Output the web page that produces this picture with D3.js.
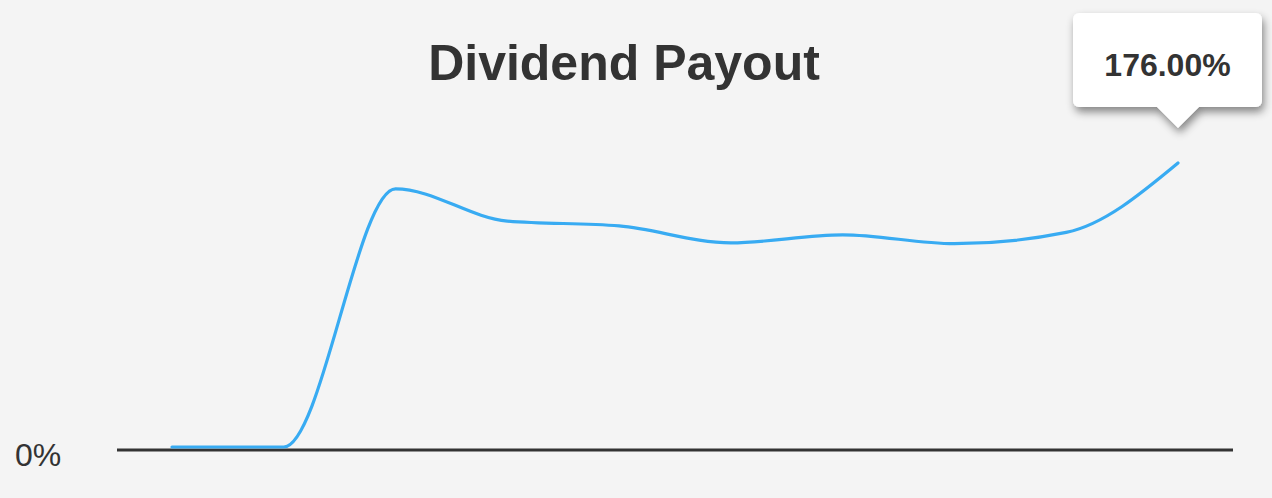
<!DOCTYPE html>
<html>
<head>
<meta charset="utf-8">
<script src="https://cdn.jsdelivr.net/npm/d3@7"></script>
<style>
	html, body { margin: 0; padding: 0; background: #f4f4f4; }
	svg { display: block; }
</style>
</head>
<body>
<svg id="chart"></svg>
<script>
// periods have no visible labels in the chart, so they're plain indices
const periods = ["1", "2", "3", "4", "5", "6", "7", "8", "9", "10"];
const payout = [0, 0, 160, 140, 137, 126.5, 131.5, 126, 133, 176];
const yTicks = [0];
const title = "Dividend Payout";
const lastLabel = "176.00%";

const width = 1272;
const height = 498;

let svg = d3.select("#chart").attr("width", width).attr("height", height);
svg.append("rect").attr("width", width).attr("height", height).attr("fill", "#f4f4f4");

let x = d3.scalePoint().domain(periods).range([172, 1178]);
let y = d3.scaleLinear().domain([0, 176]).range([447, 163]);

let defs = svg.append("defs");
let shadow = defs.append("filter").attr("id", "shadow")
	.attr("x", "-20%").attr("y", "-20%").attr("width", "140%").attr("height", "160%");
shadow.append("feDropShadow")
	.attr("dx", 2).attr("dy", 5).attr("stdDeviation", 4.5)
	.attr("flood-color", "#000").attr("flood-opacity", 0.45);

// title
svg.append("text")
	.attr("x", 624).attr("y", 80)
	.attr("text-anchor", "middle")
	.attr("font-family", "Liberation Sans, Arial, sans-serif")
	.attr("font-weight", "bold")
	.attr("font-size", 50)
	.attr("fill", "#333")
	.text(title);

// y tick label
svg.selectAll(".ylabel").data(yTicks).enter().append("text")
	.attr("class", "ylabel")
	.attr("x", 15).attr("y", d => y(d) + 19)
	.attr("font-family", "Liberation Sans, Arial, sans-serif")
	.attr("font-size", 32)
	.attr("fill", "#333")
	.text(d => d + "%");

// line
let line = d3.line()
	.x((d, i) => x(periods[i]))
	.y(d => y(d))
	.curve(d3.curveMonotoneX);

// baseline
svg.append("line")
	.attr("x1", 117).attr("x2", 1233)
	.attr("y1", y(0) + 3).attr("y2", y(0) + 3)
	.attr("stroke", "#333").attr("stroke-width", 3);

svg.append("path")
	.datum(payout)
	.attr("d", line)
	.attr("fill", "none")
	.attr("stroke", "#38abf2")
	.attr("stroke-width", 3.2)
	.attr("stroke-linecap", "round");

// tooltip on last point
let lx = x(periods[periods.length - 1]);
let tip = svg.append("g");
let bx0 = lx - 105, bx1 = lx + 84, by0 = 13, by1 = 107, r = 6, tipY = 128, hw = 21;
let tipPath = d3.path();
tipPath.moveTo(bx0 + r, by0);
tipPath.lineTo(bx1 - r, by0);
tipPath.arcTo(bx1, by0, bx1, by0 + r, r);
tipPath.lineTo(bx1, by1 - r);
tipPath.arcTo(bx1, by1, bx1 - r, by1, r);
tipPath.lineTo(lx + hw, by1);
tipPath.lineTo(lx, tipY);
tipPath.lineTo(lx - hw, by1);
tipPath.lineTo(bx0 + r, by1);
tipPath.arcTo(bx0, by1, bx0, by1 - r, r);
tipPath.lineTo(bx0, by0 + r);
tipPath.arcTo(bx0, by0, bx0 + r, by0, r);
tipPath.closePath();
tip.append("path")
	.attr("d", tipPath.toString())
	.attr("fill", "#fff")
	.attr("filter", "url(#shadow)");
tip.append("text")
	.attr("x", (bx0 + bx1) / 2).attr("y", 76)
	.attr("text-anchor", "middle")
	.attr("font-family", "Liberation Sans, Arial, sans-serif")
	.attr("font-weight", "bold")
	.attr("font-size", 32)
	.attr("fill", "#333")
	.text(lastLabel);
</script>
</body>
</html>
